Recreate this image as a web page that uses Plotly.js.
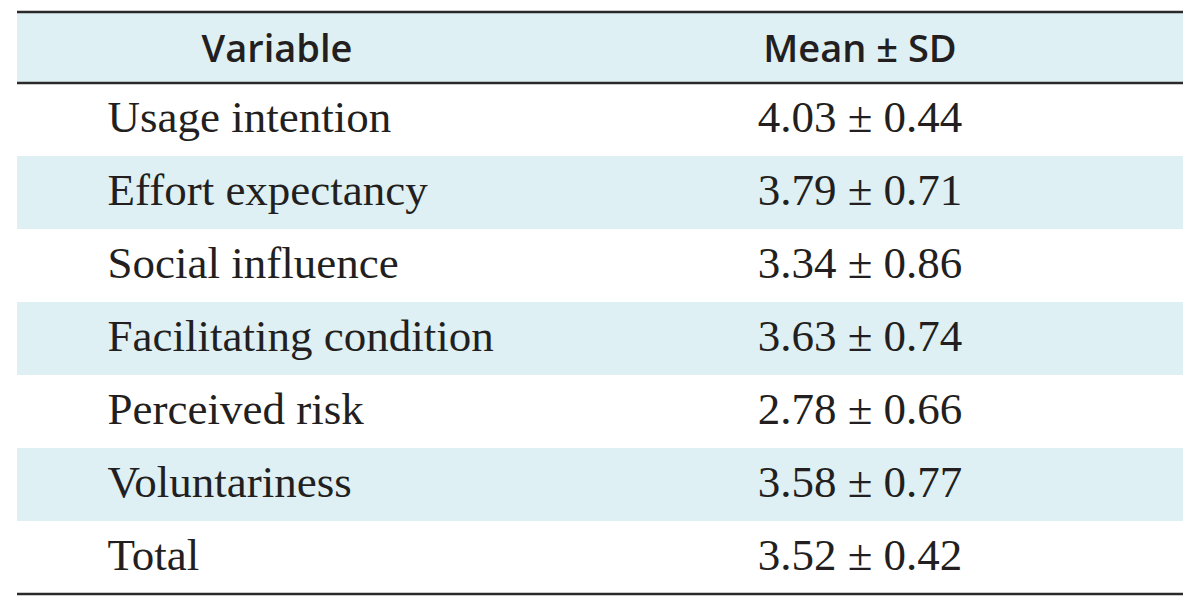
<!DOCTYPE html>
<html>
<head>
<meta charset="utf-8">
<script src="https://cdn.plot.ly/plotly-3.0.1.min.js"></script>
<style>
html,body{margin:0;padding:0;background:#fff;}
#chart{width:1200px;height:608px;}
</style>
</head>
<body>
<div id="chart"></div>
<script>
// ---- data ----
var headers = ["Variable", "Mean ± SD"];
var variables = ["Usage intention", "Effort expectancy", "Social influence", "Facilitating condition", "Perceived risk", "Voluntariness", "Total"];
var means = [4.03, 3.79, 3.34, 3.63, 2.78, 3.58, 3.52];
var sds = [0.44, 0.71, 0.86, 0.74, 0.66, 0.77, 0.42];

// ---- style / geometry ----
var W = 1200, H = 608;
var tLeft = 17, tRight = 1183, tTop = 12;
var headerH = 71, rowH = 73;
var headTextShift = 13, bodyTextShift = 7;
var blue = "#def0f3";
var lineColor = "#2a2a2a";
var textColor = "#231f20";
var colW = [520, 646];

var meanSd = means.map(function (m, i) { return m.toFixed(2) + " ± " + sds[i].toFixed(2); });
var indent = "\u00a0\u00a0\u00a0\u00a0\u00a0\u00a0\u00a0\u200a";
var varLabels = variables.map(function (v) { return indent + v; });
var rowFill = variables.map(function (_, i) { return i % 2 === 1 ? blue : "#ffffff"; });
var blanks = variables.map(function () { return ""; });

// background table: row stripes and header fill
var bgTable = {
  type: "table",
  domain: { x: [tLeft / W, tRight / W], y: [0, 1 - tTop / H] },
  columnwidth: colW,
  header: {
    values: ["", ""], height: headerH,
    fill: { color: blue }, line: { width: 0, color: "rgba(0,0,0,0)" }
  },
  cells: {
    values: [blanks, blanks], height: rowH,
    fill: { color: [rowFill, rowFill] }, line: { width: 0, color: "rgba(0,0,0,0)" }
  }
};

// text table: same grid, text shifted down to sit centred in each band
var txtTop = tTop + headTextShift;
var txtTable = {
  type: "table",
  domain: { x: [tLeft / W, tRight / W], y: [0, 1 - txtTop / H] },
  columnwidth: colW,
  header: {
    values: headers,
    align: ["center", "center"],
    height: headerH - headTextShift + bodyTextShift,
    fill: { color: "rgba(0,0,0,0)" },
    line: { width: 0, color: "rgba(0,0,0,0)" },
    font: { family: "Open Sans", size: 38, color: textColor, weight: 600 }
  },
  cells: {
    values: [varLabels, meanSd],
    align: ["left", "center"],
    height: rowH,
    fill: { color: "rgba(0,0,0,0)" },
    line: { width: 0, color: "rgba(0,0,0,0)" },
    font: { family: "Liberation Serif", size: 45, color: textColor }
  }
};

function hline(ypx) {
  return {
    type: "line", xref: "paper", yref: "paper",
    x0: tLeft / W, x1: tRight / W, y0: 1 - ypx / H, y1: 1 - ypx / H,
    line: { color: lineColor, width: 2.5 }
  };
}

var layout = {
  width: W, height: H,
  margin: { l: 0, r: 0, t: 0, b: 0 },
  paper_bgcolor: "#ffffff",
  showlegend: false,
  shapes: [
    hline(tTop),
    hline(tTop + headerH),
    hline(tTop + headerH + rowH * variables.length)
  ]
};

Plotly.newPlot("chart", [bgTable, txtTable], layout, { displayModeBar: false, staticPlot: true });
</script>
</body>
</html>
